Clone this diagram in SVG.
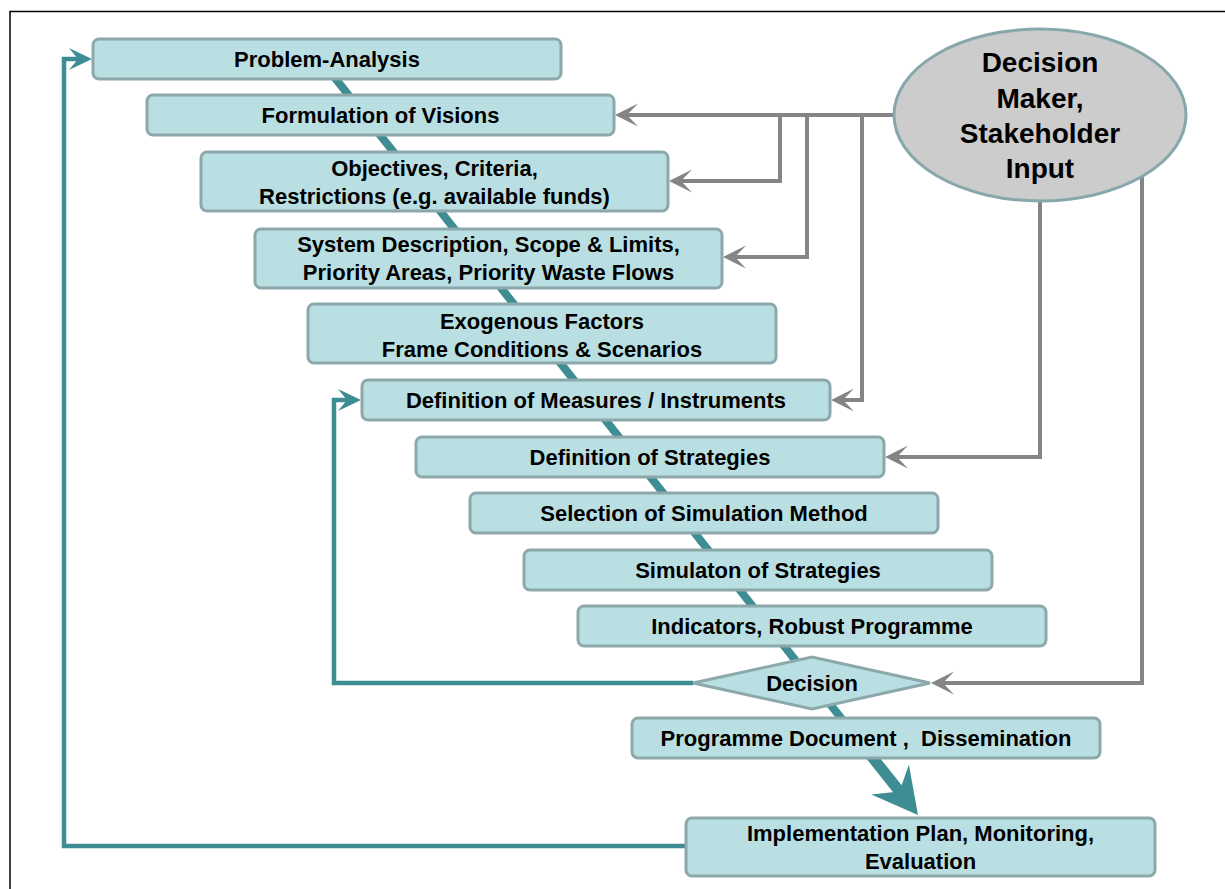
<svg xmlns="http://www.w3.org/2000/svg" width="1225" height="889" viewBox="0 0 1225 889">
  <style>
    .box { fill: #b9dfe2; stroke: #8ca8aa; stroke-width: 3; }
    .lbl { font-family: "Liberation Sans", Arial, sans-serif; font-weight: bold; font-size: 22px; fill: #000; text-anchor: middle; }
    .big { font-size: 28px; }
    .grey { fill: none; stroke: #858585; stroke-width: 4; stroke-linejoin: miter; }
    .teal { fill: none; stroke: #3d8d93; stroke-width: 4.5; stroke-linejoin: miter; }
    .frame { fill: none; stroke: #000; stroke-width: 1.5; }
  </style>
  <defs>
    <marker id="arrGrey" markerUnits="userSpaceOnUse" markerWidth="30" markerHeight="30" refX="11" refY="0" orient="auto" overflow="visible">
      <path d="M23,0 L0,-11.5 L11,0 L0,11.5 Z" fill="#858585"/>
    </marker>
    <marker id="arrTeal" markerUnits="userSpaceOnUse" markerWidth="30" markerHeight="30" refX="9" refY="0" orient="auto" overflow="visible">
      <path d="M23,0 L0,-11 L9,0 L0,11 Z" fill="#3d8d93"/>
    </marker>
  </defs>

  <!-- frame -->
  <path class="frame" d="M10,889 V11.5 H1225"/>

  <!-- connectors -->
  <g id="connectors">
    <!-- process spine -->
    <line x1="320" y1="59" x2="860" y2="742" stroke="#3d8d93" stroke-width="8"/>
    <line x1="857" y1="738" x2="900" y2="792" stroke="#3d8d93" stroke-width="11"/>
    <polygon points="918,815 871.3,794.6 899.4,791.5 908.9,764.8" fill="#3d8d93"/>

    <!-- feedback loops -->
    <path class="teal" d="M693,683 H334 V400 H347" marker-end="url(#arrTeal)"/>
    <path class="teal" d="M686,846 H64 V59 H78" marker-end="url(#arrTeal)"/>

    <!-- stakeholder input -->
    <path class="grey" d="M896,115 H627" marker-end="url(#arrGrey)"/>
    <path class="grey" d="M780,115 V181 H681" marker-end="url(#arrGrey)"/>
    <path class="grey" d="M807,115 V257 H735" marker-end="url(#arrGrey)"/>
    <path class="grey" d="M862,115 V400 H843" marker-end="url(#arrGrey)"/>
    <path class="grey" d="M1040,200 V457 H897" marker-end="url(#arrGrey)"/>
    <path class="grey" d="M1142,172 V683 H943" marker-end="url(#arrGrey)"/>
  </g>

  <g id="stakeholder">
    <ellipse cx="1040" cy="115" rx="146" ry="86" fill="#cccccc" stroke="#86a8aa" stroke-width="3"/>
    <text class="lbl big" x="1040" y="72">Decision</text>
    <text class="lbl big" x="1040" y="108">Maker,</text>
    <text class="lbl big" x="1040" y="143">Stakeholder</text>
    <text class="lbl big" x="1040" y="178">Input</text>
  </g>

  <g id="problem">
    <rect class="box" x="93" y="39" width="468" height="40" rx="6"/>
    <text class="lbl" x="327" y="67">Problem-Analysis</text>
  </g>
  <g id="visions">
    <rect class="box" x="147" y="95" width="467" height="40" rx="6"/>
    <text class="lbl" x="380.5" y="123">Formulation of Visions</text>
  </g>
  <g id="objectives">
    <rect class="box" x="201" y="152" width="467" height="59" rx="6"/>
    <text class="lbl" x="434.5" y="176">Objectives, Criteria,</text>
    <text class="lbl" x="434.5" y="204">Restrictions (e.g. available funds)</text>
  </g>
  <g id="system">
    <rect class="box" x="255" y="229" width="467" height="59" rx="6"/>
    <text class="lbl" x="488.5" y="252">System Description, Scope &amp; Limits,</text>
    <text class="lbl" x="488.5" y="280">Priority Areas, Priority Waste Flows</text>
  </g>
  <g id="exogenous">
    <rect class="box" x="308" y="304" width="468" height="59" rx="6"/>
    <text class="lbl" x="542" y="329">Exogenous Factors</text>
    <text class="lbl" x="542" y="357">Frame Conditions &amp; Scenarios</text>
  </g>
  <g id="measures">
    <rect class="box" x="362" y="380" width="468" height="40" rx="6"/>
    <text class="lbl" x="596" y="408">Definition of Measures / Instruments</text>
  </g>
  <g id="strategies">
    <rect class="box" x="416" y="437" width="468" height="40" rx="6"/>
    <text class="lbl" x="650" y="465">Definition of Strategies</text>
  </g>
  <g id="method">
    <rect class="box" x="470" y="493" width="468" height="40" rx="6"/>
    <text class="lbl" x="704" y="521">Selection of Simulation Method</text>
  </g>
  <g id="simulation">
    <rect class="box" x="524" y="550" width="468" height="40" rx="6"/>
    <text class="lbl" x="758" y="578">Simulaton of Strategies</text>
  </g>
  <g id="indicators">
    <rect class="box" x="578" y="606" width="468" height="40" rx="6"/>
    <text class="lbl" x="812" y="634">Indicators, Robust Programme</text>
  </g>
  <g id="decision">
    <polygon class="box" points="693,683 812,657 930,683 812,709"/>
    <text class="lbl" x="812" y="691">Decision</text>
  </g>
  <g id="document">
    <rect class="box" x="632" y="718" width="468" height="40" rx="6"/>
    <text class="lbl" x="866" y="746" xml:space="preserve">Programme Document ,  Dissemination</text>
  </g>
  <g id="implementation">
    <rect class="box" x="686" y="818" width="469" height="58" rx="6"/>
    <text class="lbl" x="920.5" y="841">Implementation Plan, Monitoring,</text>
    <text class="lbl" x="920.5" y="869">Evaluation</text>
  </g>
</svg>
